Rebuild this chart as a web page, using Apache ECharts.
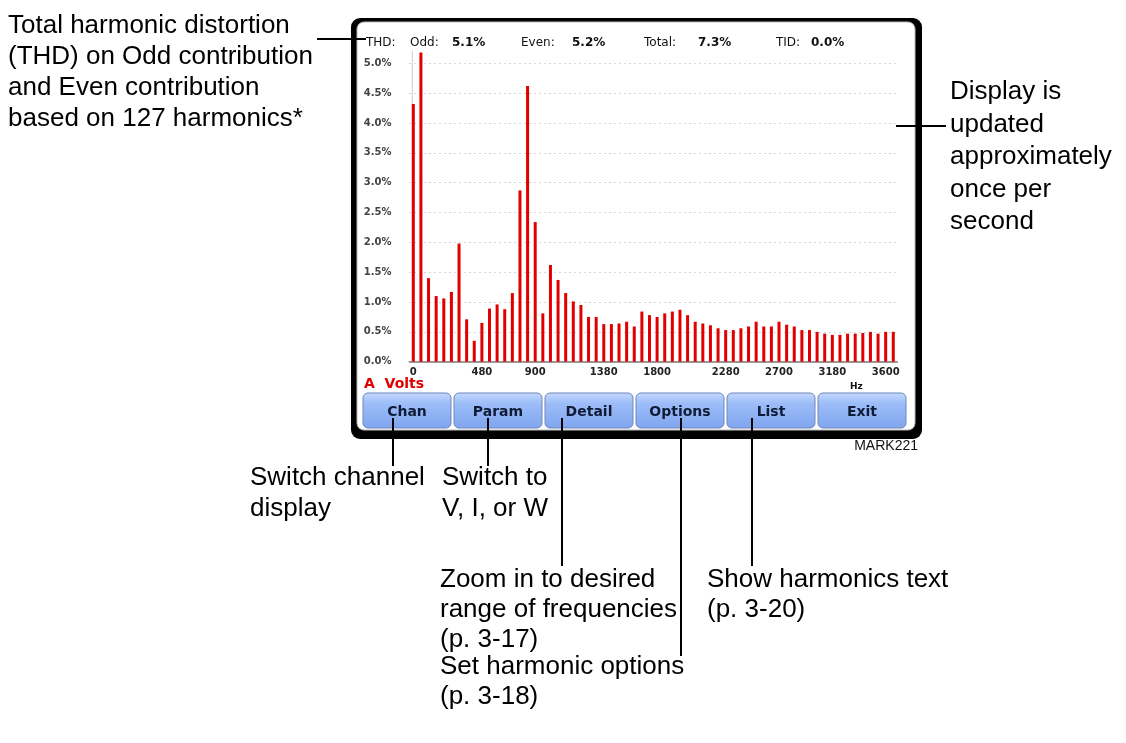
<!DOCTYPE html>
<html>
<head>
<meta charset="utf-8">
<script src="https://cdn.jsdelivr.net/npm/echarts@6/dist/echarts.min.js"></script>
<style>html,body{margin:0;padding:0;background:#fff}#c{width:1126px;height:743px}</style>
</head>
<body>
<div id="c"></div>
<script>
// ---- data ----
const harmonics = Array.from({length: 64}, (_, i) => String(i));
const distortion = [4.32, 5.18, 1.40, 1.10, 1.06, 1.17, 1.98, 0.71, 0.35, 0.65, 0.89, 0.96, 0.88, 1.15, 2.87, 4.62,
  2.34, 0.81, 1.62, 1.37, 1.15, 1.01, 0.95, 0.75, 0.75, 0.63, 0.63, 0.64, 0.67, 0.59, 0.84, 0.78,
  0.75, 0.81, 0.84, 0.87, 0.78, 0.67, 0.64, 0.61, 0.56, 0.53, 0.53, 0.56, 0.59, 0.67, 0.59, 0.59,
  0.67, 0.62, 0.59, 0.53, 0.53, 0.50, 0.47, 0.45, 0.45, 0.47, 0.47, 0.48, 0.50, 0.47, 0.50, 0.50];
const fundamental = [5.2];
const tickLabels = ['0', '480', '900', '1380', '1800', '2280', '2700', '3180', '3600'];
const tickIndex = [0, 9, 16, 25, 32, 41, 48, 55, 62];
const headerLabels = ['THD:', 'Odd:', 'Even:', 'Total:', 'TID:'];
const headerValues = ['', '5.1%', '5.2%', '7.3%', '0.0%'];
const buttons = ['Chan', 'Param', 'Detail', 'Options', 'List', 'Exit'];
const channelLabel = 'A  Volts';
const unitLabel = 'Hz';

const chart = echarts.init(document.getElementById('c'), null, {renderer: 'canvas', width: 1126, height: 743});
const F = 'Liberation Sans, Arial, sans-serif';
const SF = 'DejaVu Sans, sans-serif';
const g = [];
// bezel
g.push({type: 'rect', shape: {x: 351, y: 18, width: 571, height: 421, r: 9}, style: {fill: '#000'}, z: -10});
g.push({type: 'rect', shape: {x: 357, y: 22, width: 558, height: 408, r: 7}, style: {fill: '#fff', stroke: '#bbb', lineWidth: 1}, z: -9});
// header
const hx = [366, 410, 521, 644, 776], vx = [0, 452, 572, 698, 811];
headerLabels.forEach((t, i) => {
  g.push({type: 'text', x: hx[i], y: 43, style: {text: t, font: '12px ' + SF, fill: '#111', textVerticalAlign: 'middle'}});
  if (headerValues[i]) g.push({type: 'text', x: vx[i], y: 43, style: {text: headerValues[i], font: 'bold 12px ' + SF, fill: '#111', textVerticalAlign: 'middle'}});
});
g.push({type: 'text', x: 364, y: 384, style: {text: channelLabel, font: 'bold 14px ' + SF, fill: '#e00000', textVerticalAlign: 'middle'}});
g.push({type: 'text', x: 850, y: 387, style: {text: unitLabel, font: 'bold 9px ' + SF, fill: '#111', textVerticalAlign: 'middle'}});
// buttons
const bx0 = 363, bw = 88, bgap = 3;
buttons.forEach((b, i) => {
  const x = bx0 + i * (bw + bgap);
  g.push({type: 'rect', shape: {x: x, y: 393, width: bw, height: 35, r: 5},
    style: {fill: new echarts.graphic.LinearGradient(0, 0, 0, 1, [{offset: 0, color: '#c6daff'}, {offset: 0.3, color: '#9dbdf8'}, {offset: 1, color: '#7fa5ef'}]),
      stroke: '#6f87ba', lineWidth: 1}, z: 1});
  g.push({type: 'text', x: x + bw / 2, y: 412, style: {text: b, font: 'bold 14px ' + SF, fill: '#101c36', textAlign: 'center', textVerticalAlign: 'middle'}, z: 2});
});
g.push({type: 'text', x: 918, y: 446, style: {text: 'MARK221', font: '14px ' + F, fill: '#111', textAlign: 'right', textVerticalAlign: 'middle'}});
// annotation lines
const L = (x1, y1, x2, y2) => g.push({type: 'line', shape: {x1, y1, x2, y2}, style: {stroke: '#000', lineWidth: 2}, z: 5});
L(317, 39, 366, 39);
L(896, 126, 946, 126);
L(393, 418, 393, 466);
L(488, 418, 488, 466);
L(562, 418, 562, 566);
L(681, 418, 681, 656);
L(752, 418, 752, 566);
// annotation texts
const T = (x, y, lines, step) => lines.forEach((s, i) => g.push({type: 'text', x: x, y: y + i * (step || 31),
  style: {text: s, font: '26px ' + F, fill: '#000', textVerticalAlign: 'bottom'}}));
T(8, 39, ['Total harmonic distortion', '(THD) on Odd contribution', 'and Even contribution', 'based on 127 harmonics*']);
T(950, 105, ['Display is', 'updated', 'approximately', 'once per', 'second'], 32.5);
T(250, 491, ['Switch channel', 'display']);
T(442, 491, ['Switch to', 'V, I, or W']);
T(440, 593, ['Zoom in to desired', 'range of frequencies', '(p. 3-17)'], 30);
T(707, 593, ['Show harmonics text', '(p. 3-20)'], 30);
T(440, 680, ['Set harmonic options', '(p. 3-18)'], 30);

chart.setOption({
  backgroundColor: '#fff',
  animation: false,
  graphic: g,
  grid: {left: 409.5, top: 63.3, width: 487.6, height: 298.4},
  xAxis: {
    type: 'category', data: harmonics,
    axisLine: {lineStyle: {color: '#999', width: 2}},
    axisTick: {show: false},
    axisLabel: {
      interval: (idx) => tickIndex.indexOf(idx) >= 0,
      formatter: (v, idx) => { const k = tickIndex.indexOf(Number(v)); return k >= 0 ? tickLabels[k] : ''; },
      fontSize: 10, fontWeight: 'bold', fontFamily: SF, color: '#222', margin: 6
    },
    splitLine: {show: false}
  },
  yAxis: {
    type: 'value', min: 0, max: 5, interval: 0.5,
    axisLine: {show: false}, axisTick: {show: false},
    axisLabel: {formatter: v => v.toFixed(1) + '%', fontSize: 10, fontWeight: 'bold', fontFamily: SF, color: '#444', margin: 18},
    splitLine: {lineStyle: {type: [1, 4], color: '#aaa', width: 1}}
  },
  series: [
    {type: 'bar', name: 'fundamental', data: fundamental, barWidth: 1, barGap: '-100%', itemStyle: {color: '#ccc'}, clip: false, z: 1},
    {type: 'bar', name: 'distortion', data: distortion, barWidth: 3, itemStyle: {color: '#e00000'}, clip: false, z: 2}
  ]
});
</script>
</body>
</html>
